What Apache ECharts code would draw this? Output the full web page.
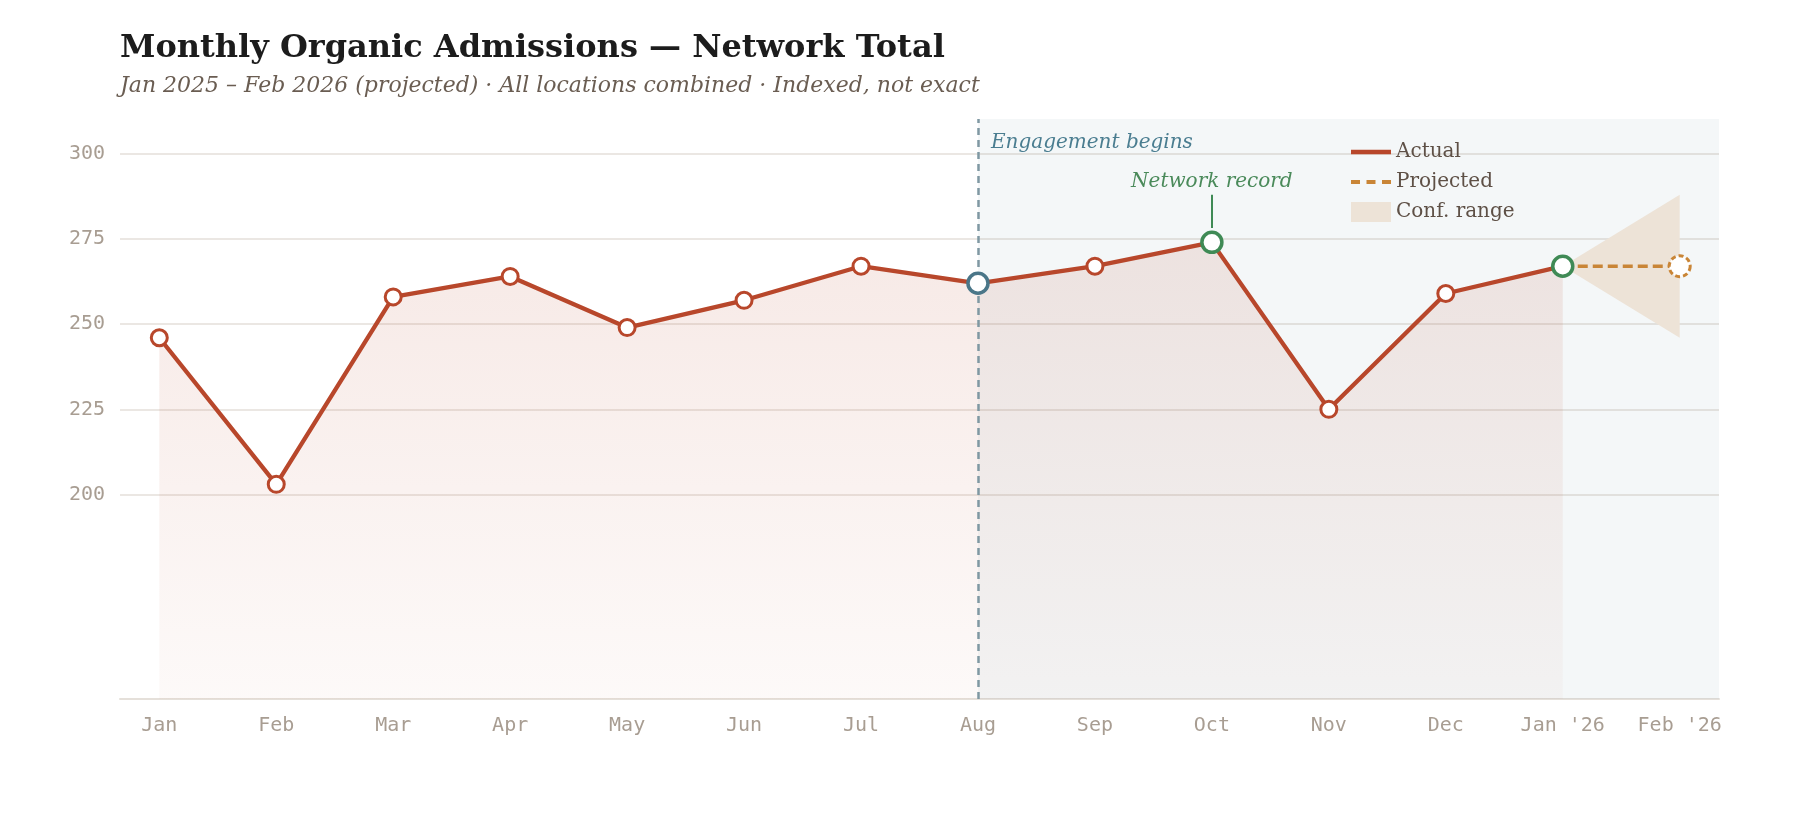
<!DOCTYPE html>
<html>
<head>
<meta charset="utf-8">
<script src="https://cdn.jsdelivr.net/npm/echarts@6/dist/echarts.min.js"></script>
<style>
html,body{margin:0;padding:0;background:#fff;}
#chart{width:1800px;height:840px;}
</style>
</head>
<body>
<div id="chart"></div>
<script>
// ---- data ----
const months = ['Jan','Feb','Mar','Apr','May','Jun','Jul','Aug','Sep','Oct','Nov','Dec',"Jan '26","Feb '26"];
const actual = [246, 203, 258, 264, 249, 257, 267, 262, 267, 274, 225, 259, 267];
const projectedX = [12, 13];
const projected = [267, 267];
const confUpper = [267, 288];
const confLower = [267, 246];
const yTicks = [200, 225, 250, 275, 300];
const engagementIndex = 7;
const recordIndex = 9;
const recordLabelSpan = [278.2, 288];

// ---- styling ----
const RED = '#b8472b', GREEN = '#3f8a55', BLUE = '#4a7688', ORANGE = '#c98536';
const xMin = -0.336, xMax = 13.336;
const yMin = 140, yMax = 310.2;
const serif = 'DejaVu Serif';
const mono = 'DejaVu Sans Mono';

const actualPairs = actual.map((v, i) => [i, v]);
const pointData = actual.map((v, i) => {
  let c = RED, s = 16, w = 3;
  if (i === engagementIndex) { c = BLUE; s = 20; w = 3.5; }
  if (i === recordIndex || i === actual.length - 1) { c = GREEN; s = 20; w = 3.5; }
  return { value: [i, v], symbolSize: s, itemStyle: { color: '#fff', borderColor: c, borderWidth: w, opacity: 1 } };
});
const projPairs = projected.map((v, i) => [projectedX[i], v]);

const chart = echarts.init(document.getElementById('chart'), null, { renderer: 'canvas' });
chart.setOption({
  backgroundColor: '#fff',
  animation: false,
  title: {
    left: 115, top: 26,
    text: 'Monthly Organic Admissions — Network Total',
    subtext: 'Jan 2025 – Feb 2026 (projected) · All locations combined · Indexed, not exact',
    itemGap: 5,
    textStyle: { fontFamily: serif, fontWeight: 'bold', fontSize: 32, color: '#1c1c1c', lineHeight: 36 },
    subtextStyle: { fontFamily: serif, fontStyle: 'italic', fontSize: 22, color: '#6a5d52', lineHeight: 28 }
  },
  legend: {
    left: 1346, top: 137, orient: 'vertical',
    itemWidth: 40, itemHeight: 20, itemGap: 10,
    textStyle: { fontFamily: serif, fontSize: 20, color: '#5e5046' },
    data: [
      { name: 'Actual', icon: 'path://M0,0H40V4.5H0Z', itemStyle: { color: RED, borderWidth: 0 } },
      { name: 'Projected', icon: 'path://M0,0H9V4H0Z M15.5,0H24.5V4H15.5Z M31,0H40V4H31Z', itemStyle: { color: ORANGE, borderWidth: 0 } },
      { name: 'Conf. range', icon: 'path://M0,0H40V20H0Z', itemStyle: { color: '#ede3d7', borderWidth: 0 } }
    ]
  },
  grid: { left: 120, right: 81, top: 119, bottom: 141 },
  xAxis: {
    type: 'value', min: xMin, max: xMax,
    axisLine: { show: true, lineStyle: { color: '#e5e0da', width: 2 } },
    axisTick: { show: false, customValues: months.map((m, i) => i) },
    splitLine: { show: false },
    axisLabel: {
      customValues: months.map((m, i) => i),
      formatter: v => months[Math.round(v)] || '',
      fontFamily: mono, fontSize: 20, color: '#a89d92', margin: 17
    }
  },
  yAxis: {
    type: 'value', min: yMin, max: yMax,
    axisLine: { show: false },
    axisTick: { show: false, customValues: yTicks },
    splitLine: { show: true, lineStyle: { color: '#e4dfda', width: 1.5 } },
    axisLabel: { customValues: yTicks, fontFamily: mono, fontSize: 20, color: '#a89d92', margin: 15 }
  },
  series: [
    {
      name: 'shade', type: 'line', z: 1, silent: true, data: actualPairs,
      showSymbol: false, symbol: 'none', lineStyle: { width: 0, opacity: 0 },
      markArea: {
        silent: true,
        itemStyle: { color: 'rgba(75,115,135,0.06)' },
        data: [[{ xAxis: engagementIndex }, { xAxis: xMax }]]
      }
    },
    {
      name: 'Conf. range', type: 'custom', z: 2, silent: true,
      data: [[projectedX[0], confUpper[0]]],
      itemStyle: { color: '#ede3d7' },
      renderItem: function (params, api) {
        const pts = [];
        for (let i = 0; i < projectedX.length; i++) pts.push(api.coord([projectedX[i], confUpper[i]]));
        for (let i = projectedX.length - 1; i >= 0; i--) pts.push(api.coord([projectedX[i], confLower[i]]));
        return { type: 'polygon', shape: { points: pts }, style: { fill: '#ede3d7' } };
      }
    },
    {
      name: 'Actual', type: 'line', z: 3, data: actualPairs,
      symbol: 'none', showSymbol: false,
      lineStyle: { color: RED, width: 4.3 },
      itemStyle: { color: RED },
      areaStyle: {
        origin: 'start',
        color: new echarts.graphic.LinearGradient(0, 0, 0, 1, [
          { offset: 0, color: 'rgba(184,71,43,0.17)' },
          { offset: 1, color: 'rgba(184,71,43,0.045)' }
        ])
      }
    },
    {
      name: 'guides', type: 'line', z: 4, silent: true, data: [],
      symbol: 'none',
      markLine: {
        silent: true, symbol: 'none', animation: false,
        data: [
          { xAxis: engagementIndex, lineStyle: { color: '#7f98a2', width: 2.5, type: [7, 5] }, label: { show: false } },
          [
            { coord: [recordIndex, recordLabelSpan[0]], lineStyle: { color: GREEN, width: 2, type: 'solid' } },
            { coord: [recordIndex, recordLabelSpan[1]] }
          ]
        ],
        label: {
          show: true, position: 'end', distance: 3, formatter: 'Network record',
          fontFamily: serif, fontStyle: 'italic', fontSize: 20, color: '#4a8a5a'
        }
      },
      markPoint: {
        silent: true, symbol: 'circle', symbolSize: 0,
        data: [{ coord: [engagementIndex, yMax] }],
        label: {
          show: true, position: 'right', distance: 13, offset: [0, 24],
          formatter: 'Engagement begins',
          fontFamily: serif, fontStyle: 'italic', fontSize: 20, color: '#4a7d90'
        }
      }
    },
    {
      name: 'Projected', type: 'line', z: 4, data: projPairs,
      symbol: 'none', showSymbol: false,
      lineStyle: { color: ORANGE, width: 3.4, type: [10, 5] },
      itemStyle: { color: ORANGE }
    },
    {
      name: 'Actual points', type: 'scatter', z: 6, data: pointData
    },
    {
      name: 'Projected point', type: 'scatter', z: 6,
      data: [{ value: [projectedX[1], projected[1]] }],
      symbolSize: 21,
      itemStyle: { color: '#fff', borderColor: ORANGE, borderWidth: 3, borderType: [5, 3], opacity: 1 }
    }
  ]
});
</script>
</body>
</html>
